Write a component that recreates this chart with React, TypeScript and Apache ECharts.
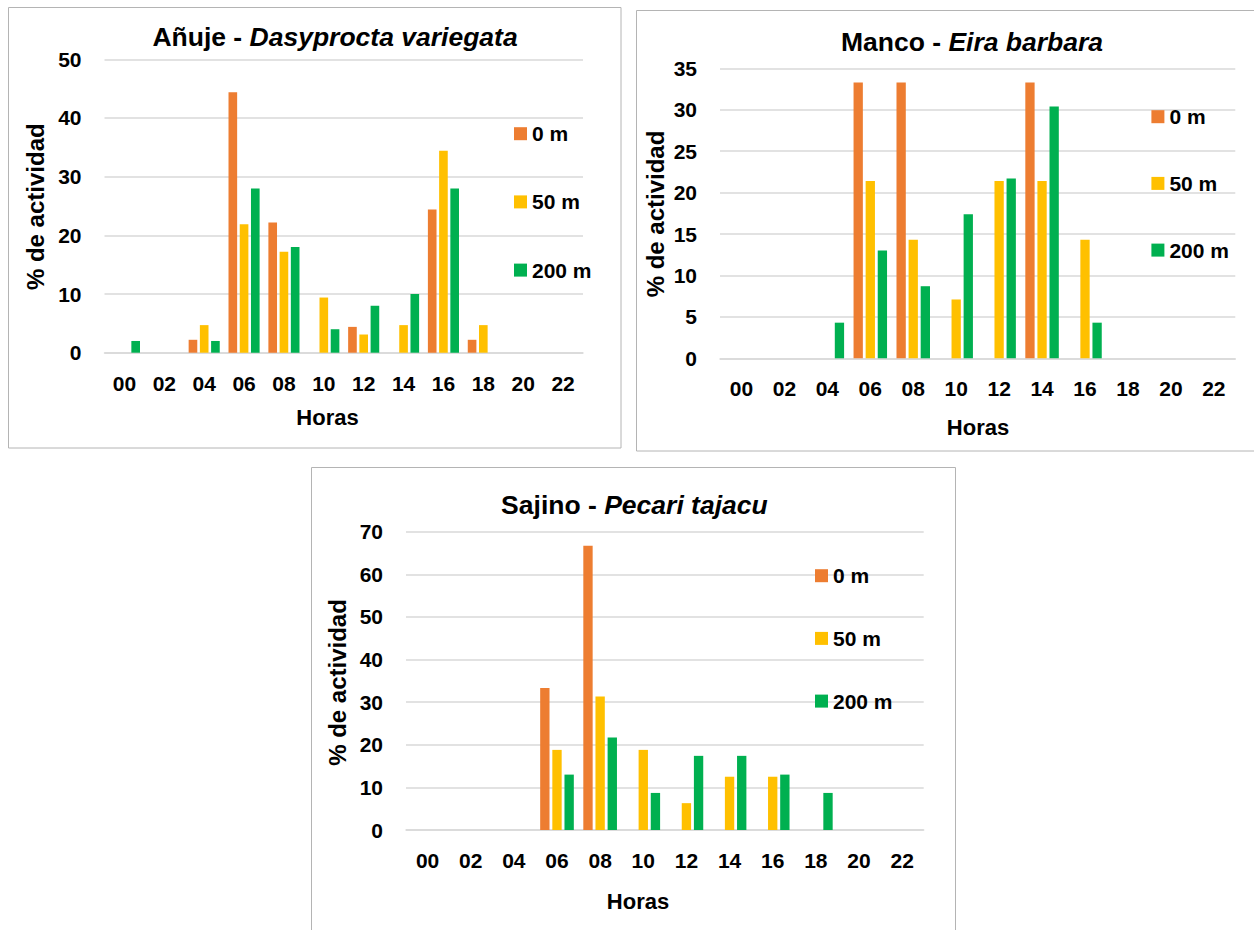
import React, { useEffect, useRef } from "react";
import * as echarts from "echarts";

const hours = ["00", "02", "04", "06", "08", "10", "12", "14", "16", "18", "20", "22"];
const seriesNames = ["0 m", "50 m", "200 m"];
const seriesColors = ["#ED7D31", "#FFC000", "#00B050"];

// Añuje - Dasyprocta variegata
const anuje0 = [0, 0, 2.2, 44.4, 22.2, 0, 4.4, 0, 24.4, 2.2, 0, 0];
const anuje50 = [0, 0, 4.7, 21.9, 17.2, 9.4, 3.1, 4.7, 34.4, 4.7, 0, 0];
const anuje200 = [2, 0, 2, 28, 18, 4, 8, 10, 28, 0, 0, 0];

// Manco - Eira barbara
const manco0 = [0, 0, 0, 33.3, 33.3, 0, 0, 33.3, 0, 0, 0, 0];
const manco50 = [0, 0, 0, 21.4, 14.3, 7.1, 21.4, 21.4, 14.3, 0, 0, 0];
const manco200 = [0, 0, 4.3, 13.0, 8.7, 17.4, 21.7, 30.4, 4.3, 0, 0, 0];

// Sajino - Pecari tajacu
const sajino0 = [0, 0, 0, 33.3, 66.7, 0, 0, 0, 0, 0, 0, 0];
const sajino50 = [0, 0, 0, 18.8, 31.3, 18.8, 6.3, 12.5, 12.5, 0, 0, 0];
const sajino200 = [0, 0, 0, 13.0, 21.7, 8.7, 17.4, 17.4, 13.0, 8.7, 0, 0];

const yMax = [50, 35, 70];
const yInterval = [10, 5, 10];
const commonNames = ["Añuje", "Manco", "Sajino"];
const latinNames = ["Dasyprocta variegata", "Eira barbara", "Pecari tajacu"];
const xTitle = "Horas";
const yTitle = "% de actividad";

const FONT = "'Liberation Sans', Arial, sans-serif";

export default function App() {
  const ref = useRef<HTMLDivElement>(null);

  useEffect(() => {
    if (!ref.current) return;
    const chart = echarts.init(ref.current, null, { renderer: "svg" });

    const grids = [
      { left: 104.5, top: 59.3, width: 478.5, height: 293.4 },
      { left: 720, top: 68.3, width: 515.3, height: 290 },
      { left: 406, top: 531.7, width: 517.7, height: 298.3 },
    ];
    const panels = [
      { x: 8.5, y: 7.5, w: 612.5, h: 440.5 },
      { x: 636.5, y: 10.5, w: 640, h: 440.5 },
      { x: 311.5, y: 467.5, w: 644, h: 480 },
    ];
    const titlePos = [
      [335, 36.7],
      [972, 41.7],
      [634.4, 505],
    ];
    const xNamePos = [
      [327.5, 417.7],
      [978, 427.7],
      [638, 901],
    ];
    const yNamePos = [
      [35, 206.7],
      [655.5, 214],
      [337.6, 682.5],
    ];
    const legendPos = [
      { left: 514, top: 123.2, gap: 47.2 },
      { left: 1151.4, top: 106.2, gap: 45.7 },
      { left: 815, top: 565.2, gap: 41.7 },
    ];
    const data = [
      [anuje0, anuje50, anuje200],
      [manco0, manco50, manco200],
      [sajino0, sajino50, sajino200],
    ];

    const graphic: any[] = [];
    panels.forEach((p) => {
      graphic.push({
        type: "rect",
        shape: { x: p.x, y: p.y, width: p.w, height: p.h },
        style: { fill: "none", stroke: "#B4B4B4", lineWidth: 1 },
        silent: true,
        z: -10,
      });
    });
    titlePos.forEach((t, i) => {
      graphic.push({
        type: "text",
        x: t[0],
        y: t[1],
        style: {
          text: `{b|${commonNames[i]} - }{it|${latinNames[i]}}`,
          align: "center",
          verticalAlign: "middle",
          rich: {
            b: { fontFamily: FONT, fontWeight: "bold", fontSize: 26.5, fill: "#000" },
            it: { fontFamily: FONT, fontWeight: "bold", fontStyle: "italic", fontSize: 26.5, fill: "#000" },
          },
        },
      });
    });
    xNamePos.forEach((t) => {
      graphic.push({
        type: "text",
        x: t[0],
        y: t[1],
        style: {
          text: xTitle,
          align: "center",
          verticalAlign: "middle",
          fontFamily: FONT,
          fontWeight: "bold",
          fontSize: 22,
          fill: "#000",
        },
      });
    });
    yNamePos.forEach((t) => {
      graphic.push({
        type: "text",
        x: t[0],
        y: t[1],
        rotation: Math.PI / 2,
        style: {
          text: yTitle,
          align: "center",
          verticalAlign: "middle",
          fontFamily: FONT,
          fontWeight: "bold",
          fontSize: 24,
          fill: "#000",
        },
      });
    });

    const series: any[] = [];
    data.forEach((group, gi) => {
      group.forEach((vals, si) => {
        series.push({
          type: "bar",
          name: seriesNames[si],
          xAxisIndex: gi,
          yAxisIndex: gi,
          data: vals,
          barGap: "30%",
          barCategoryGap: "22%",
          itemStyle: { color: seriesColors[si] },
        });
      });
    });

    const option: any = {
      animation: false,
      backgroundColor: "#ffffff",
      grid: grids.map((g) => ({ ...g, containLabel: false })),
      xAxis: grids.map((_, i) => ({
        type: "category",
        gridIndex: i,
        data: hours,
        axisTick: { show: false },
        axisLine: { show: true, lineStyle: { color: "#D9D9D9", width: 1.5 } },
        axisLabel: {
          margin: 20,
          fontFamily: FONT,
          fontWeight: "bold",
          fontSize: 21,
          color: "#000",
          interval: 0,
        },
      })),
      yAxis: grids.map((_, i) => ({
        type: "value",
        gridIndex: i,
        min: 0,
        max: yMax[i],
        interval: yInterval[i],
        axisLine: { show: false },
        axisTick: { show: false },
        splitLine: { show: true, lineStyle: { color: "#D9D9D9", width: 1.5 } },
        axisLabel: {
          margin: 23,
          fontFamily: FONT,
          fontWeight: "bold",
          fontSize: 21,
          color: "#000",
        },
      })),
      legend: legendPos.map((l) => ({
        orient: "vertical",
        left: l.left,
        top: l.top,
        itemGap: l.gap,
        itemWidth: 13,
        itemHeight: 13,
        padding: 0,
        icon: "rect",
        data: seriesNames,
        selectedMode: false,
        textStyle: {
          fontFamily: FONT,
          fontWeight: "bold",
          fontSize: 21,
          color: "#000",
          lineHeight: 21,
        },
      })),
      graphic,
      series,
    };

    chart.setOption(option);
    return () => chart.dispose();
  }, []);

  return (
    <div
      ref={ref}
      style={{ position: "absolute", left: 0, top: 0, width: 1254, height: 930 }}
    />
  );
}
